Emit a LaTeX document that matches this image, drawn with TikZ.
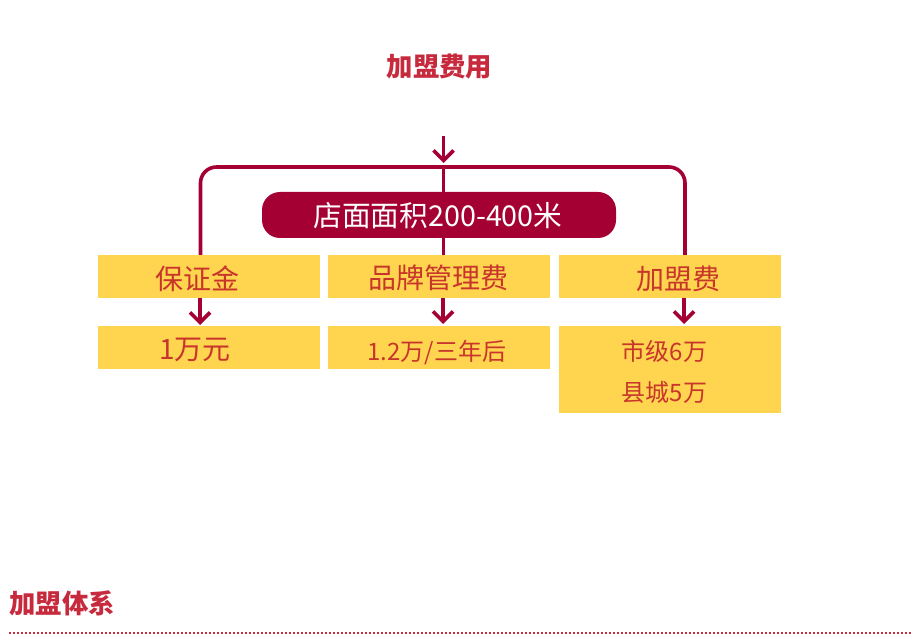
\documentclass[tikz,border=0pt]{standalone}
\usepackage{fontspec}
\setmainfont{Noto Sans CJK SC}
\usetikzlibrary{arrows.meta}
\definecolor{wine}{HTML}{A50034}
\definecolor{gold}{HTML}{FFD54F}
\definecolor{redtxt}{HTML}{C8352B}
\definecolor{headred}{HTML}{C62A3C}
\tikzset{
  x=1pt,y=-1pt,
  gbox/.style={fill=gold,draw=none,inner sep=0pt,anchor=north west},
  lab/.style={text=redtxt,inner sep=0pt},
  big/.style={font=\fontsize{28}{32}\selectfont},
  mid/.style={font=\fontsize{24}{28}\selectfont},
  head/.style={font=\fontsize{26.4}{30}\selectfont\bfseries,text=headred,inner sep=0pt},
  wire/.style={draw=wine,line width=3.6pt},
  tip/.style={wire,-{Straight Barb[length=10pt,width=20pt,line width=3.6pt]}},
}
\begin{document}
\begin{tikzpicture}
\useasboundingbox (0,0) rectangle (913,644);
\coordinate (topstart) at (443.5,136);
\coordinate (topend) at (443.5,163);
\coordinate (junction) at (443.5,167);
\coordinate (frameL) at (200.5,255);
\coordinate (frameR) at (685,255);
\coordinate (midend) at (443.5,255);
\draw[wire,rounded corners=16pt] (frameL) -- (200.5,167) -- (685,167) -- (frameR);
\draw[wire] (junction) -- (midend);
\draw[tip] (topstart) -- (topend);
\node[fill=wine,rounded corners=18pt,minimum width=354pt,minimum height=46pt,inner sep=0pt] (pill) at (439,215) {};
\node[text=white,inner sep=0pt,font=\fontsize{28.7}{32}\selectfont] (pilltxt) at (438,216) {店面面积200-400米};
\node[gbox,minimum width=222pt,minimum height=43pt] (a1) at (98,255) {};
\node[gbox,minimum width=222pt,minimum height=43pt] (b1) at (328,255) {};
\node[gbox,minimum width=222pt,minimum height=43pt] (c1) at (559,255) {};
\node[gbox,minimum width=222pt,minimum height=43pt] (a2) at (98,326) {};
\node[gbox,minimum width=222pt,minimum height=43pt] (b2) at (328,326) {};
\node[gbox,minimum width=222pt,minimum height=87pt] (c2) at (559,326) {};
\node[big,lab] (la1) at (197,279) {保证金};
\node[big,lab] (lb1) at (438,278) {品牌管理费};
\node[big,lab] (lc1) at (678,279) {加盟费};
\node[big,lab] (la2) at (195,350) {1万元};
\node[mid,lab] (lb2) at (437,353) {1.2万/三年后};
\node[mid,lab] (lc2) at (664.5,351) {市级6万};
\node[mid,lab] (lc3) at (664.5,392) {县城5万};
\coordinate (a1b) at (200,298);
\coordinate (a2t) at (200,325);
\coordinate (b1b) at (443,298);
\coordinate (b2t) at (443,324);
\coordinate (c1b) at (684,298);
\coordinate (c2t) at (684,324);
\draw[tip] (a1b) -- (a2t);
\draw[tip] (b1b) -- (b2t);
\draw[tip] (c1b) -- (c2t);
\node[head] (t1) at (439.5,67) {加盟费用};
\node[head,anchor=west] (t2) at (9,603) {加盟体系};
\coordinate (d1) at (9,633);
\coordinate (d2) at (913,633);
\draw[headred,line width=2pt,dash pattern=on 2pt off 2pt] (d1) -- (d2);
\end{tikzpicture}
\end{document}
